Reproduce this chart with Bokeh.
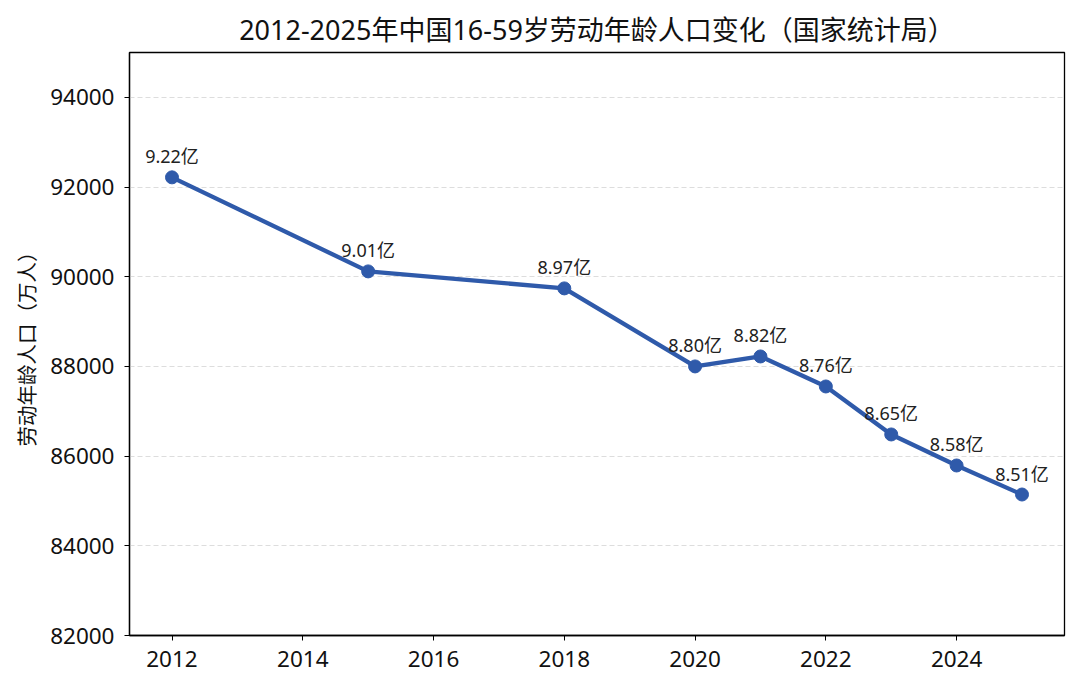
from bokeh.plotting import figure
from bokeh.models import ColumnDataSource, FixedTicker, Range1d
from bokeh.core.properties import value
from bokeh.embed import file_html
from bokeh.resources import INLINE

years = [2012, 2015, 2018, 2020, 2021, 2022, 2023, 2024, 2025]
population = [92216, 90119, 89740, 88000, 88222, 87553, 86483, 85791, 85144]
point_labels = ["9.22亿", "9.01亿", "8.97亿", "8.80亿", "8.82亿", "8.76亿", "8.65亿", "8.58亿", "8.51亿"]
x_ticks = [2012, 2014, 2016, 2018, 2020, 2022, 2024]
y_ticks = [82000, 84000, 86000, 88000, 90000, 92000, 94000]

FONT = "Noto Sans, Noto Sans CJK SC"
BLUE = "#2F5AAA"

src = ColumnDataSource(dict(x=years, y=population, label=point_labels))

p = figure(width=1072, height=680, output_backend="svg", toolbar_location=None,
           x_range=Range1d(2011.35, 2025.65), y_range=Range1d(82000, 95000),
           min_border_left=129, min_border_right=8, min_border_top=52, min_border_bottom=45)

p.title.text = "2012-2025年中国16-59岁劳动年龄人口变化（国家统计局）"
p.title.align = "center"
p.title.text_font = FONT
p.title.text_font_size = "27px"
p.title.text_font_style = "normal"
p.title.text_color = "#111111"

p.line("x", "y", source=src, line_color=BLUE, line_width=4.3)
p.scatter("x", "y", source=src, size=13, fill_color=BLUE, line_color=BLUE)
p.text("x", "y", text="label", source=src, text_align="center", text_baseline="bottom",
       y_offset=-9, text_font=value(FONT), text_font_size="18px", text_color="#222222")

p.xaxis.ticker = FixedTicker(ticks=x_ticks)
p.yaxis.ticker = FixedTicker(ticks=y_ticks)
for ax in (p.xaxis[0], p.yaxis[0]):
    ax.major_label_text_font = FONT
    ax.major_label_text_font_size = "22.5px"
    ax.major_label_text_color = "#111111"
    ax.major_tick_out = 5
    ax.major_tick_in = 0
    ax.minor_tick_out = 0
    ax.minor_tick_in = 0
    ax.major_tick_line_color = "black"
    ax.axis_line_color = "black"
    ax.axis_line_width = 1.3
    ax.major_label_standoff = 10
p.yaxis.axis_label = "劳动年龄人口（万人）"
p.yaxis.axis_label_text_font = FONT
p.yaxis.axis_label_text_font_size = "20.5px"
p.yaxis.axis_label_text_font_style = "normal"
p.yaxis.axis_label_text_color = "#111111"
p.yaxis.axis_label_standoff = 6

p.xgrid.grid_line_color = None
p.ygrid.grid_line_color = "#dddddd"
p.ygrid.grid_line_dash = "5 3"
p.ygrid.grid_line_width = 1

p.outline_line_color = "black"
p.outline_line_width = 1.3
p.background_fill_color = "white"
p.border_fill_color = "white"

open("out.html", "w").write(file_html(p, INLINE))
